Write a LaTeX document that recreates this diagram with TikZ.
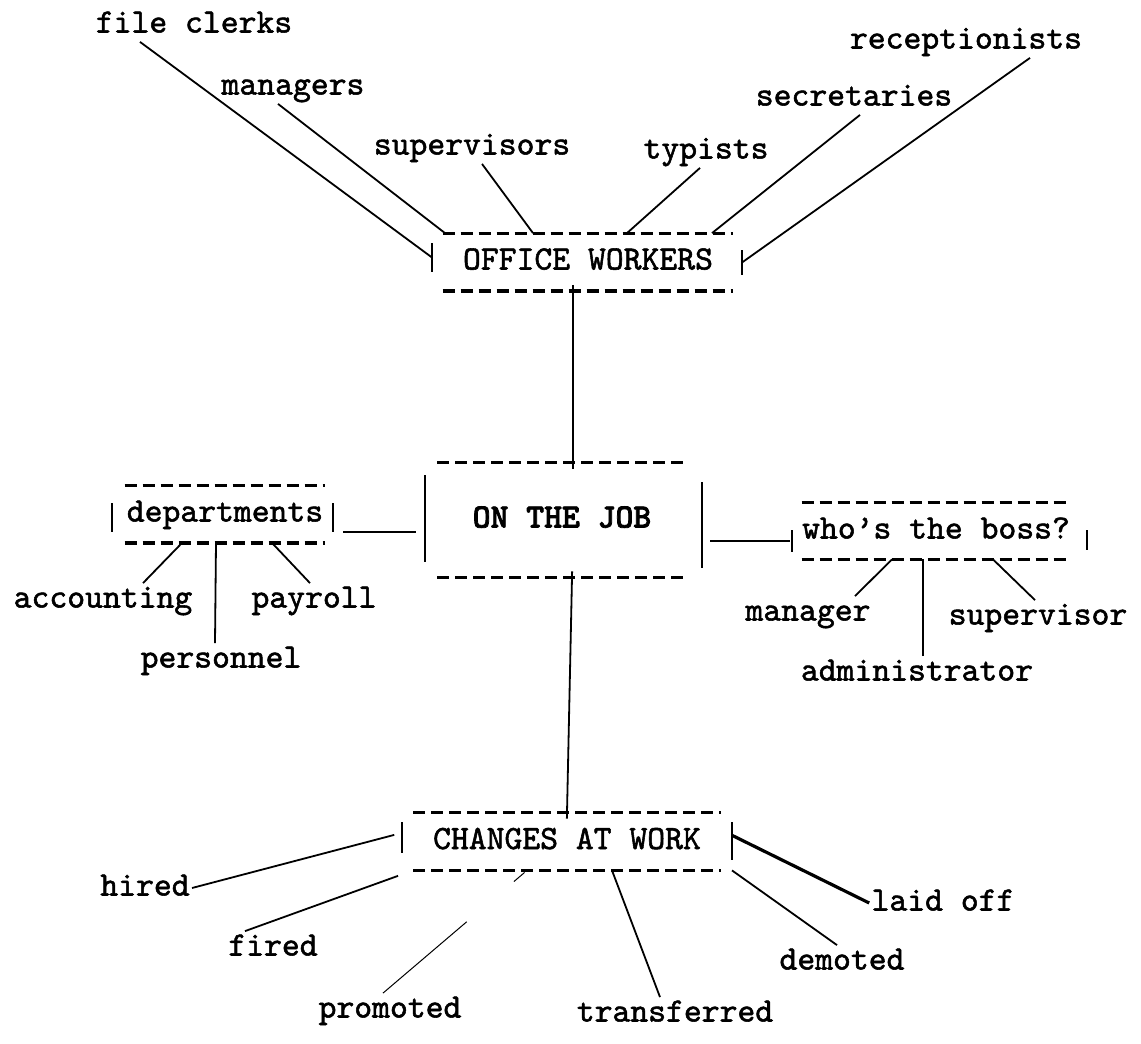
\documentclass[tikz,border=0pt]{standalone}
\usepackage{fontspec}
\newfontfamily\typefont{lmmono10-regular.otf}[FakeBold=1.6]
\newfontfamily\typeboldfont{lmmonolt10-bold.otf}[FakeBold=2.2]
\newcommand{\cardframe}[1]{%
	\draw[dashrule] (#1.north west) -- (#1.north east);
	\draw[dashrule] (#1.south west) -- (#1.south east);}

\begin{document}
\begin{tikzpicture}[x=0.5pt,y=-0.5pt,
	word/.style={font=\typefont\fontsize{17}{20}\selectfont, inner sep=1pt, text height=11pt, text depth=3.5pt},
	card/.style={word, inner sep=0pt},
	dashrule/.style={line width=1.6pt, dash pattern=on 6pt off 3pt},
	bar/.style={line width=1.1pt},
	link/.style={line width=0.9pt}]
	\useasboundingbox (0,0) rectangle (1141,1044);

	% the five frames
	\node[card, minimum width=145pt, minimum height=28.5pt] (office) at (588,262) {OFFICE WORKERS};
	\node[card, minimum width=124.5pt, minimum height=57pt, font=\typeboldfont\fontsize{17}{20}\selectfont] (job) at (562,520) {ON THE JOB};
	\node[card, minimum width=100pt, minimum height=28.5pt] (depts) at (225,514) {departments};
	\node[card, minimum width=132pt, minimum height=28pt] (boss) at (936,531) {who’s the boss?};
	\node[card, minimum width=153.5pt, minimum height=28.5pt] (changes) at (567,841.5) {CHANGES AT WORK};
	\cardframe{office}
	\cardframe{job}
	\cardframe{depts}
	\cardframe{boss}
	\cardframe{changes}

	\draw[bar] (432,243) -- (432,272) coordinate[pos=.5] (officeL);
	\draw[bar] (742,250) -- (742,275) coordinate[pos=.5] (officeR);
	\draw[bar] (425,475) -- (425,562) coordinate[pos=.6] (jobL);
	\draw[bar] (702,482) -- (702,568) coordinate[pos=.5] (jobR);
	\draw[bar] (112,503) -- (112,532);
	\draw[bar] (333,503) -- (333,532) coordinate (deptsR);
	\draw[bar] (792,530) -- (792,552) coordinate[pos=.5] (bossL);
	\draw[bar] (1087,530) -- (1087,550);
	\draw[bar] (402,822) -- (402,853) coordinate[pos=.35] (changesL);
	\draw[bar] (732,822) -- (732,860) coordinate[pos=.35] (changesR);

	\draw[link, shorten <=-3pt, shorten >=-3pt] (office.south -| 573,0) -- (job.north -| 573,0);
	\draw[link, shorten <=-3pt, shorten >=-3pt] (job.south -| 572,0) -- (changes.north -| 567,0);
	\draw[link, shorten <=5pt, shorten >=4.5pt] (deptsR) -- (jobL |- deptsR);
	\draw[link, shorten <=4pt, shorten >=1pt] (jobR |- bossL) -- (bossL);

	% office workers
	\node[word] (fileclerks) at (194,25) {file clerks};
	\node[word] (managers) at (293,87) {managers};
	\node[word] (supervisors) at (472,147) {supervisors};
	\node[word] (typists) at (706,151) {typists};
	\node[word] (secretaries) at (854,98) {secretaries};
	\node[word] (receptionists) at (966,41) {receptionists};
	\draw[link] (fileclerks.south -| 140,0) -- (officeL);
	\draw[link] (managers.south -| 278,0) -- (office.north -| 445,0);
	\draw[link] (supervisors.south -| 482,0) -- (office.north -| 533,0);
	\draw[link] (typists.south -| 700,0) -- (office.north -| 627,0);
	\draw[link] (secretaries.south -| 860,0) -- (office.north -| 712,0);
	\draw[link] (receptionists.south -| 1030,0) -- (officeR);

	% departments and bosses
	\node[word] (accounting) at (103,600) {accounting};
	\node[word] (personnel) at (221,660) {personnel};
	\node[word] (payroll) at (314,600) {payroll};
	\draw[link] (accounting.north -| 143,0) -- (depts.south -| 182,0);
	\draw[link] (personnel.north -| 215,0) -- (depts.south -| 216,0);
	\draw[link] (payroll.north -| 310,0) -- (depts.south -| 272,0);
	\node[word] (manager) at (808,613) {manager};
	\node[word] (administrator) at (917,673) {administrator};
	\node[word] (supervisor) at (1038,617) {supervisor};
	\draw[link] (manager.north -| 855,0) -- (boss.south -| 892,0);
	\draw[link] (administrator.north -| 923,0) -- (boss.south -| 923,0);
	\draw[link] (supervisor.north -| 1035,0) -- (boss.south -| 993,0);

	% changes at work
	\node[word] (hired) at (145,888) {hired};
	\node[word] (fired) at (273,948) {fired};
	\node[word] (promoted) at (390,1010) {promoted};
	\node[word] (transferred) at (675,1014) {transferred};
	\node[word] (demoted) at (842,962) {demoted};
	\node[word] (laidoff) at (943,903) {laid off};
	\draw[link, shorten >=4pt] (hired.east) -- (changesL);
	\draw[link, shorten >=8pt] (fired.north -| 245,0) -- (changes.south west);
	\draw[link, line width=0.5pt, dash pattern=on 55pt off 31pt on 7pt off 20pt] (promoted.north -| 383,0) -- (changes.south -| 527,0);
	\draw[link] (transferred.north -| 660,0) -- (changes.south -| 612,0);
	\draw[link] (demoted.north -| 837,0) -- (changesR |- changes.south);
	\draw[link, line width=1.6pt] (laidoff.west) -- (changesR);
\end{tikzpicture}
\end{document}
